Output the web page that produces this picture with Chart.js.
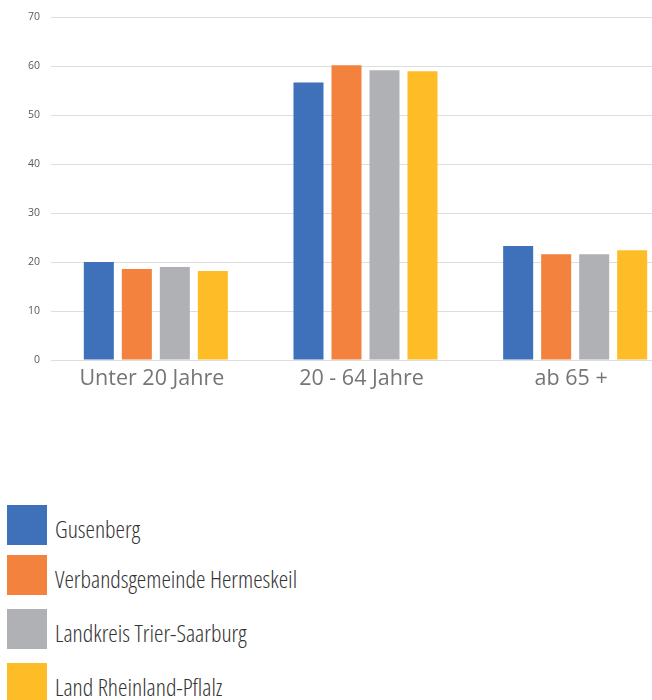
<!DOCTYPE html>
<html>
<head>
<meta charset="utf-8">
<script src="https://cdn.jsdelivr.net/npm/chart.js@4.4.1/dist/chart.umd.min.js"></script>
<style>
html,body{margin:0;padding:0;background:#fff;overflow:hidden;width:652px;height:700px;}
#wrap{position:absolute;left:0;top:0;width:680px;height:400px;}
#legend{position:absolute;left:7px;top:505px;margin:0;padding:0;list-style:none;}
#legend li{display:flex;align-items:center;height:40px;}
#legend .box{width:40px;height:40px;flex:none;}
#legend .txt{margin-left:8px;font-family:"Open Sans",sans-serif;font-stretch:75%;font-weight:300;font-size:24px;color:#333;white-space:nowrap;display:inline-block;transform-origin:left center;position:relative;top:3px;}
</style>
</head>
<body>
<div id="wrap"><canvas id="c"></canvas></div>
<ul id="legend"></ul>
<script>
const categories = ["Unter 20 Jahre", "20 - 64 Jahre", "ab 65 +"];
const seriesNames = ["Gusenberg", "Verbandsgemeinde Hermeskeil", "Landkreis Trier-Saarburg", "Land Rheinland-Pflalz"];
const gusenberg = [20.0, 56.7, 23.3];
const hermeskeil = [18.6, 60.2, 21.6];
const trierSaarburg = [19.0, 59.2, 21.6];
const rheinlandPfalz = [18.2, 59.0, 22.4];
const yTicks = [0, 10, 20, 30, 40, 50, 60, 70];
const colors = ["#3E71BA", "#F2823D", "#B0B1B4", "#FEBD27"];
const legendGaps = [0, 10, 14, 14];

const values = [gusenberg, hermeskeil, trierSaarburg, rheinlandPfalz];

const chart = new Chart(document.getElementById('c'), {
  type: 'bar',
  data: {
    labels: categories,
    datasets: seriesNames.map((n, i) => ({
      label: n,
      data: values[i],
      backgroundColor: colors[i],
      borderWidth: 0,
      categoryPercentage: 0.725,
      barPercentage: 0.79
    }))
  },
  options: {
    responsive: true,
    maintainAspectRatio: false,
    animation: false,
    layout: {padding: {top: 17, left: 0, right: 0, bottom: 0}},
    plugins: {legend: {display: false}, tooltip: {enabled: false}},
    scales: {
      x: {
        grid: {display: false},
        border: {display: false},
        ticks: {color: '#757575', font: {family: 'Open Sans', size: 21.5}, padding: -2, labelOffset: -4, maxRotation: 0},
        afterFit: s => { s.height = 40; }
      },
      y: {
        min: 0, max: 70,
        afterBuildTicks: s => { s.ticks = yTicks.map(v => ({value: v})); },
        grid: {color: '#dedede', lineWidth: 1, drawTicks: false},
        border: {display: false},
        ticks: {color: '#595959', font: {family: 'Open Sans', size: 10.5}, padding: 11},
        afterFit: s => { s.width = 51; }
      }
    }
  }
});

const ul = document.getElementById('legend');
chart.data.datasets.forEach((ds, i) => {
  const li = document.createElement('li');
  li.style.marginTop = legendGaps[i] + 'px';
  const b = document.createElement('span');
  b.className = 'box';
  b.style.background = ds.backgroundColor;
  const t = document.createElement('span');
  t.className = 'txt';
  t.textContent = ds.label;
  li.appendChild(b); li.appendChild(t);
  ul.appendChild(li);
});
// fit condensed look: longest label is ~242px wide in the reference
const spans = [...ul.querySelectorAll('.txt')];
const w = spans[1].getBoundingClientRect().width;
const k = 242 / w;
spans.forEach(s => { s.style.transform = 'scaleX(' + k + ')'; });
</script>
</body>
</html>
